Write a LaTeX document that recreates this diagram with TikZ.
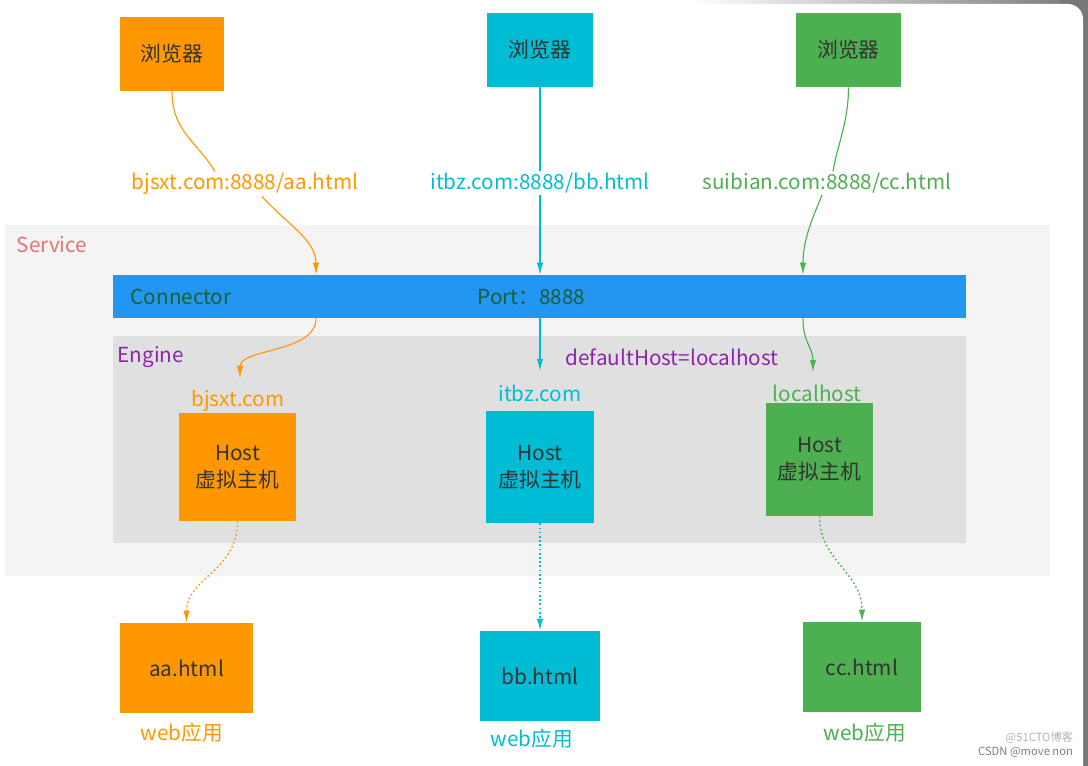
\documentclass[tikz,border=0pt]{standalone}
\usepackage{fontspec}
\setmainfont{Noto Sans CJK SC}
\usetikzlibrary{arrows.meta}
\definecolor{ora}{HTML}{FF9800}
\definecolor{cya}{HTML}{00BCD4}
\definecolor{gre}{HTML}{4CAF50}
\definecolor{blu}{HTML}{2196F3}
\definecolor{txt}{HTML}{333333}
\definecolor{contxt}{HTML}{1E5E32}
\definecolor{eng}{HTML}{8E24AA}
\definecolor{srv}{HTML}{E57373}
\definecolor{srvbg}{HTML}{F4F4F4}
\definecolor{engbg}{HTML}{E0E0E0}
\definecolor{framegray}{HTML}{777777}
\tikzset{
  box/.style={inner sep=0pt, text=txt, align=center, font=\fontsize{14.8}{19}\selectfont},
  lbl/.style={inner sep=1pt, font=\fontsize{14.7}{17}\selectfont},
  link/.style={line width=0.8pt},
  tip/.style={-{Latex[length=3mm,width=1.6mm]}},
  dots/.style={line width=1pt, dash pattern=on 1.2pt off 1.8pt}
}
\begin{document}
\begin{tikzpicture}[x=0.025cm,y=-0.025cm]
\useasboundingbox (0,0) rectangle (1088,766);
% window frame
\shade[left color=white, right color=framegray] (690,0) rectangle (1088,4);
\fill[framegray] (1060,0) rectangle (1088,766);
\fill[white] (0,766) -- (0,4) [rounded corners=0.375cm] -- (1083,4) [sharp corners] -- (1083,766) -- cycle;
% regions
\fill[srvbg] (5,225) rectangle (1050,576);
\fill[engbg] (113,336) rectangle (966,543);
\node[lbl, text=srv, anchor=west] (srv) at (15,245) {Service};
\node[lbl, text=eng, anchor=west] (eng) at (116,357) {Engine};
\node[lbl, text=eng, anchor=west] (dh) at (564,357) {defaultHost=localhost};
\node[box, fill=blu, minimum width=21.325cm, minimum height=1.075cm] (con) at (539.5,296.5) {};
\node[lbl, text=contxt, anchor=west] (cname) at (129,297) {Connector};
\node[lbl, text=contxt, anchor=west] (port) at (476,297) {Port：8888};
% browsers
\node[box, fill=ora, minimum width=2.6cm, minimum height=1.85cm] (b1) at (172,54) {浏览器};
\node[box, fill=cya, minimum width=2.625cm, minimum height=1.85cm] (b2) at (540,50) {浏览器};
\node[box, fill=gre, minimum width=2.625cm, minimum height=1.85cm] (b3) at (848.5,50) {浏览器};
\node[lbl, text=ora] (url1) at (245,184) {bjsxt.com:8888/aa.html};
\node[lbl, text=cya] (url2) at (540,183) {itbz.com:8888/bb.html};
\node[lbl, text=gre] (url3) at (827,183) {suibian.com:8888/cc.html};
% hosts
\node[box, fill=ora, minimum width=2.925cm, minimum height=2.7cm] (host1) at (237.5,467) {Host\\虚拟主机};
\node[box, fill=cya, minimum width=2.675cm, minimum height=2.8cm] (host2) at (540,467) {Host\\虚拟主机};
\node[box, fill=gre, minimum width=2.675cm, minimum height=2.825cm] (host3) at (819.5,459.5) {Host\\虚拟主机};
\node[lbl, text=ora] (hl1) at (238,401) {bjsxt.com};
\node[lbl, text=cya] (hl2) at (540,393) {itbz.com};
\node[lbl, text=gre] (hl3) at (817,393) {localhost};
% web apps
\node[box, fill=ora, minimum width=3.325cm, minimum height=2.25cm] (web1) at (186.5,668) {aa.html};
\node[box, fill=cya, minimum width=3cm, minimum height=2.25cm] (web2) at (540,676) {bb.html};
\node[box, fill=gre, minimum width=2.95cm, minimum height=2.25cm] (web3) at (862,667) {cc.html};
\node[lbl, text=ora] (wl1) at (182,733) {web应用};
\node[lbl, text=cya] (wl2) at (532,739) {web应用};
\node[lbl, text=gre] (wl3) at (865,733) {web应用};
\node[text=gray!60, font=\fontsize{8}{9}\selectfont, anchor=east] (mark2) at (1078,738) {@51CTO博客};
\node[text=gray, font=\fontsize{8}{9}\selectfont, anchor=east] (mark) at (1078,752) {CSDN @move non};
% end points
\coordinate (e1) at (240,378);
\coordinate (e2) at (540,371);
\coordinate (e3) at (813,372);
% links
\draw[link, ora] (b1.south) .. controls +(0,40) and +(-18,-30) .. (url1.north -| 215,0);
\draw[link, ora, tip] (url1.south -| 262,0) .. controls +(25,28) and +(0,-35) .. (con.north -| 316,0);
\draw[link, ora, tip] (con.south -| 316,0) .. controls +(0,35) and +(0,-30) .. (e1);
\draw[link, cya] (b2.south) -- (b2.south |- url2.north);
\draw[link, cya, tip] (url2.south -| b2) -- (con.north -| b2);
\draw[link, cya, tip] (con.south -| b2) -- (e2 -| b2);
\draw[link, gre] (b3.south) .. controls +(0,35) and +(4,-25) .. (url3.north -| 833,0);
\draw[link, gre, tip] (url3.south -| 822,0) .. controls +(-10,25) and +(0,-35) .. (con.north -| 803,0);
\draw[link, gre, tip] (con.south -| 803,0) .. controls +(0,25) and +(0,-25) .. (e3);
\draw[link, dots, ora, tip] (host1.south) .. controls +(0,50) and +(0,-45) .. (web1.north);
\draw[link, dots, cya, tip] (host2.south) -- (host2.south |- web2.north);
\draw[link, dots, gre, tip] (host3.south) .. controls +(0,45) and +(0,-50) .. (web3.north);
\end{tikzpicture}
\end{document}
